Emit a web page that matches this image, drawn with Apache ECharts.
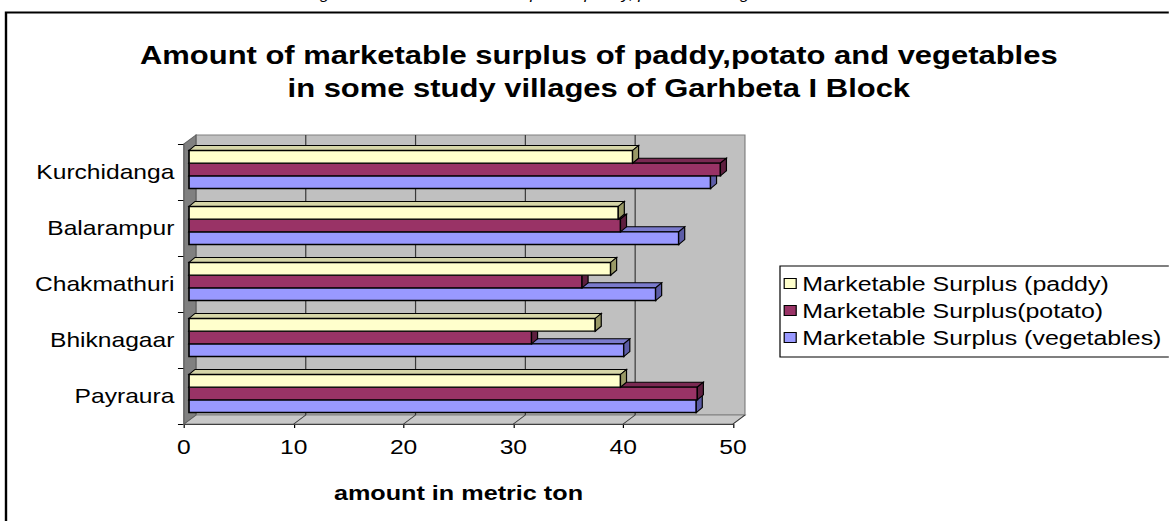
<!DOCTYPE html>
<html>
<head>
<meta charset="utf-8">
<title>Marketable surplus – Garhbeta I Block</title>
<script src="https://cdn.jsdelivr.net/npm/echarts@6/dist/echarts.min.js"></script>
<style>
  html, body { margin: 0; padding: 0; background: #fff; overflow: hidden; }
  /* the drawing is laid out narrow and widened horizontally, like the original sheet */
  #main { width: 974px; height: 521px; transform: scaleX(1.2); transform-origin: 0 0; }
</style>
</head>
<body>
<div id="main"></div>
<script>
// villages, bottom to top as they appear on the axis
const villages = ['Payraura', 'Bhiknagaar', 'Chakmathuri', 'Balarampur', 'Kurchidanga'];

// marketable surplus, metric tons (same order as villages)
const paddy      = [39.3, 37.0, 38.4, 39.1, 40.4];
const potato     = [46.3, 31.2, 35.8, 39.3, 48.4];
const vegetables = [46.2, 39.6, 42.5, 44.6, 47.5];

const seriesNames = ['Marketable Surplus (paddy)', 'Marketable Surplus(potato)', 'Marketable Surplus (vegetables)'];
const xTicks = [0, 10, 20, 30, 40, 50];

const FONT = '"Liberation Sans", Arial, sans-serif';

// face colours for each series: front, top, end cap
const faces = [
  { front: '#FFFFCC', top: '#D6D6A8', side: '#999966' },
  { front: '#993366', top: '#7A2952', side: '#5E1F3F' },
  { front: '#9999FF', top: '#7A7ACC', side: '#5C5CA6' }
];

// depth of the 3-D box (walls) and of the bars
const WALL_DX = 10, WALL_DY = -9;
const BAR_SHIFT = 4.2;
const CAP_DX = 5, CAP_DY = -5;

function frameItem(params, api) {
  const cs = params.coordSys;
  const x0 = api.coord([0, 0])[0];
  const x1 = api.coord([50, 0])[0];
  const yT = cs.y, yB = cs.y + cs.height;
  const children = [];
  // back wall
  children.push({ type: 'rect', shape: { x: x0 + WALL_DX, y: yT + WALL_DY, width: x1 - x0, height: yB - yT },
    style: { fill: '#C0C0C0', stroke: '#808080', lineWidth: 1 } });
  // floor
  children.push({ type: 'polygon', shape: { points: [[x0, yB], [x1, yB], [x1 + WALL_DX, yB + WALL_DY], [x0 + WALL_DX, yB + WALL_DY]] },
    style: { fill: '#C8C8C8', stroke: '#808080', lineWidth: 1 } });
  // side wall
  children.push({ type: 'polygon', shape: { points: [[x0, yB], [x0, yT], [x0 + WALL_DX, yT + WALL_DY], [x0 + WALL_DX, yB + WALL_DY]] },
    style: { fill: '#808080', stroke: '#606060', lineWidth: 1 } });
  // gridlines on the back wall and their traces across the floor
  xTicks.forEach(function (t) {
    const x = api.coord([t, 0])[0];
    if (t > 0 && t < 50) {
      children.push({ type: 'line', shape: { x1: x + WALL_DX, y1: yT + WALL_DY, x2: x + WALL_DX, y2: yB + WALL_DY },
        style: { stroke: '#3A3A3A', lineWidth: 1 } });
    }
    if (t > 0) {
      children.push({ type: 'line', shape: { x1: x, y1: yB, x2: x + WALL_DX, y2: yB + WALL_DY },
        style: { stroke: '#3A3A3A', lineWidth: 1 } });
    }
  });
  return { type: 'group', children: children };
}

function barRenderer(s) {
  return function (params, api) {
    const cat = api.value(1);
    const val = api.value(0);
    const p0 = api.coord([0, cat]);
    const p1 = api.coord([val, cat]);
    const band = api.size([0, 1])[1];
    const h = band * 0.2262;
    const top = p0[1] - band * 0.0446 - 1.5 * h + s * h;
    const xa = p0[0] + BAR_SHIFT, xb = p1[0] + BAR_SHIFT;
    const f = faces[s];
    return {
      type: 'group',
      children: [
        { type: 'polygon', shape: { points: [[xa, top], [xb, top], [xb + CAP_DX, top + CAP_DY], [xa + CAP_DX, top + CAP_DY]] },
          style: { fill: f.top, stroke: '#000', lineWidth: 1 } },
        { type: 'rect', shape: { x: xa, y: top, width: xb - xa, height: h },
          style: { fill: f.front, stroke: '#000', lineWidth: 1.4 } },
        { type: 'polygon', shape: { points: [[xb, top], [xb + CAP_DX, top + CAP_DY], [xb + CAP_DX, top + h + CAP_DY], [xb, top + h]] },
          style: { fill: f.side, stroke: '#000', lineWidth: 1 } }
      ]
    };
  };
}

const dataSets = [paddy, potato, vegetables];

const barSeries = dataSets.map(function (arr, s) {
  return {
    name: seriesNames[s],
    type: 'custom',
    renderItem: barRenderer(s),
    encode: { x: 0, y: 1 },
    data: arr.map(function (v, i) { return [v, i]; }),
    itemStyle: { color: faces[s].front, borderColor: '#000', borderWidth: 1 },
    z: 10 - s
  };
});

const chart = echarts.init(document.getElementById('main'), null, { renderer: 'svg' });

chart.setOption({
  animation: false,
  backgroundColor: '#fff',
  textStyle: { fontFamily: FONT },
  title: {
    text: 'Amount of marketable surplus of paddy,potato and vegetables\nin some study villages of Garhbeta I Block',
    left: 494,
    textAlign: 'center',
    top: 33,
    textStyle: { fontFamily: FONT, fontSize: 25.8, fontWeight: 'bold', color: '#000', lineHeight: 33 }
  },
  graphic: [
    { type: 'rect', shape: { x: 5, y: 12.5, width: 2000, height: 1000 },
      style: { fill: 'none', stroke: '#000', lineWidth: 2 }, z: 0 },
    { type: 'text', x: 255, y: -13,
      style: { text: 'Fig. Amount of marketable surplus of paddy, potato and vegetables', font: 'italic 14px ' + FONT, fill: '#000', verticalAlign: 'top' } }
  ],
  legend: {
    orient: 'vertical',
    left: 650,
    top: 266,
    padding: [7, 30, 9, 3],
    backgroundColor: '#fff',
    borderColor: '#000',
    borderWidth: 1,
    itemWidth: 10,
    itemHeight: 10,
    itemGap: 6,
    icon: 'rect',
    itemStyle: { borderColor: '#000', borderWidth: 1 },
    textStyle: { fontFamily: FONT, fontSize: 20.8, color: '#000', lineHeight: 20 },
    data: seriesNames
  },
  grid: { left: 153.3, top: 144, width: 457.5, height: 280, containLabel: false },
  xAxis: {
    type: 'value',
    min: 0, max: 50, interval: 10,
    axisLine: { show: true, lineStyle: { color: '#000', width: 1 } },
    axisTick: { show: true, length: 4, lineStyle: { color: '#000' } },
    splitLine: { show: false },
    axisLabel: { fontFamily: FONT, fontSize: 20.5, color: '#000', margin: 13 },
    name: 'amount in metric ton',
    nameLocation: 'middle',
    nameGap: 58,
    nameTextStyle: { fontFamily: FONT, fontSize: 21, fontWeight: 'bold', color: '#000' }
  },
  yAxis: {
    type: 'category',
    data: villages,
    axisLine: { show: true, lineStyle: { color: '#000', width: 1 } },
    axisTick: { show: true, length: 5, lineStyle: { color: '#000' } },
    axisLabel: { fontFamily: FONT, fontSize: 20.5, color: '#000', margin: 8 },
    splitLine: { show: false }
  },
  series: [
    {
      type: 'custom',
      name: 'frame',
      renderItem: frameItem,
      data: [[0, 0]],
      encode: { x: 0, y: 1 },
      silent: true,
      z: 1
    }
  ].concat(barSeries)
});
</script>
</body>
</html>
